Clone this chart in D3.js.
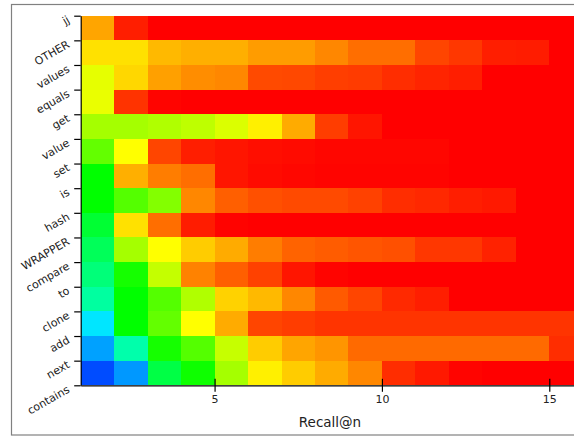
<!DOCTYPE html>
<html>
<head>
<script src="https://cdn.jsdelivr.net/npm/d3@7"></script>
<style>
  body { margin: 0; background: white; }
  text { font-family: "DejaVu Sans", sans-serif; fill: #222; }
</style>
</head>
<body>
<script>

// tick labels on the y axis (one more label than rows, as in the source figure)
var rowLabels = ["jj", "OTHER", "values", "equals", "get", "value", "set", "is",
                 "hash", "WRAPPER", "compare", "to", "clone", "add", "next", "contains"];

// n of Recall@n, one column per value
var nValues = d3.range(1, 16);

var xTicks = [5, 10, 15];

var rJj      = [0.85, 0.948, 0.975, 0.98, 0.98, 0.985, 0.985, 0.99, 0.99, 0.99, 0.995, 0.995, 1, 1, 1];
var rOther   = [0.807, 0.807, 0.836, 0.843, 0.843, 0.857, 0.857, 0.872, 0.89, 0.89, 0.92, 0.93, 0.948, 0.95, 0.975];
var rValues  = [0.767, 0.814, 0.854, 0.868, 0.872, 0.916, 0.918, 0.925, 0.927, 0.937, 0.944, 0.948, 0.975, 0.98, 0.985];
var rEquals  = [0.77, 0.933, 0.967, 0.975, 0.975, 0.98, 0.98, 0.985, 0.985, 0.99, 0.99, 0.99, 0.995, 0.995, 1];
var rGet     = [0.72, 0.72, 0.728, 0.738, 0.759, 0.796, 0.846, 0.926, 0.955, 0.975, 0.98, 0.98, 0.985, 0.99, 0.99];
var rValue   = [0.672, 0.785, 0.92, 0.948, 0.955, 0.96, 0.962, 0.966, 0.966, 0.966, 0.966, 0.975, 0.98, 0.98, 0.985];
var rSet     = [0.6, 0.843, 0.879, 0.89, 0.955, 0.962, 0.965, 0.967, 0.967, 0.967, 0.967, 0.975, 0.98, 0.98, 0.985];
var rIs      = [0.6, 0.661, 0.695, 0.872, 0.901, 0.912, 0.916, 0.916, 0.923, 0.937, 0.941, 0.948, 0.952, 0.975, 0.98];
var rHash    = [0.563, 0.807, 0.89, 0.95, 0.968, 0.975, 0.975, 0.98, 0.98, 0.985, 0.985, 0.99, 0.99, 0.99, 0.995];
var rWrapper = [0.535, 0.72, 0.785, 0.822, 0.846, 0.879, 0.898, 0.903, 0.908, 0.912, 0.93, 0.93, 0.945, 0.975, 0.98];
var rCompare = [0.512, 0.615, 0.742, 0.876, 0.901, 0.923, 0.955, 0.967, 0.975, 0.975, 0.98, 0.98, 0.985, 0.985, 0.99];
var rTo      = [0.483, 0.6, 0.661, 0.728, 0.818, 0.836, 0.872, 0.905, 0.92, 0.94, 0.948, 0.975, 0.975, 0.98, 0.98];
var rClone   = [0.396, 0.6, 0.672, 0.785, 0.846, 0.92, 0.926, 0.932, 0.932, 0.932, 0.932, 0.932, 0.932, 0.932, 0.932];
var rAdd     = [0.346, 0.475, 0.615, 0.661, 0.744, 0.822, 0.85, 0.862, 0.893, 0.893, 0.893, 0.893, 0.893, 0.893, 0.937];
var rNext    = [0.285, 0.34, 0.55, 0.61, 0.72, 0.796, 0.822, 0.846, 0.872, 0.937, 0.952, 0.967, 0.975, 0.98, 0.98];

var rows = [rJj, rOther, rValues, rEquals, rGet, rValue, rSet, rIs,
            rHash, rWrapper, rCompare, rTo, rClone, rAdd, rNext];

var width = 574,
    height = 436,
    plotLeft = 80.7,
    plotTop = 15.7,
    plotBottom = 385.3,
    colW = 33.47;

var svg = d3.select("body").append("svg")
            .attr("width", width)
            .attr("height", height);

// figure frame (cut on the right side)
svg.append("rect")
   .attr("x", 11.5).attr("y", 4.5)
   .attr("width", 700).attr("height", 430.5)
   .attr("fill", "white")
   .attr("stroke", "#808080")
   .attr("stroke-width", 1.2);

var xScale = d3.scaleLinear()
               .domain([1, 16])
               .range([plotLeft, plotLeft + 15 * colW]);
var yScale = d3.scaleLinear()
               .domain([0, rows.length])
               .range([plotTop, plotBottom]);

// gist_rainbow-like colours, low recall blue, high recall red
var color = d3.scaleLinear()
              .domain([0.23, 0.414, 0.6, 0.785, 0.97])
              .range(["#0000ff", "#00ffff", "#00ff00", "#ffff00", "#ff0000"])
              .clamp(true);

var cells = [];
rows.forEach(function (r, i) {
  r.forEach(function (v, j) {
    cells.push({"row": i, "n": nValues[j], "v": v});
  });
});

svg.append("g")
   .selectAll("rect")
   .data(cells)
   .enter()
   .append("rect")
   .attr("x", function (d) { return xScale(d.n); })
   .attr("y", function (d) { return yScale(d.row); })
   .attr("width", function (d) { return xScale(d.n + 1) - xScale(d.n); })
   .attr("height", function (d) { return yScale(d.row + 1) - yScale(d.row); })
   .attr("fill", function (d) { return color(d.v); })
   .attr("shape-rendering", "crispEdges");

// y axis
var yAxis = svg.append("g")
   .attr("transform", "translate(" + plotLeft + ",0)")
   .call(d3.axisLeft(yScale)
           .tickValues(d3.range(rowLabels.length))
           .tickFormat(function (i) { return rowLabels[i]; })
           .tickSize(6.5)
           .tickSizeOuter(0));
yAxis.selectAll("text")
     .attr("x", null)
     .attr("dy", null)
     .attr("transform", "translate(-12,2.7) rotate(-30)")
     .attr("dominant-baseline", "central")
     .style("font-size", "11px")
     .style("font-family", "DejaVu Sans");

// x axis
var xAxis = svg.append("g")
   .attr("transform", "translate(0," + plotBottom + ")")
   .call(d3.axisBottom(xScale)
           .tickValues(xTicks)
           .tickSize(6.5)
           .tickSizeOuter(0));
xAxis.selectAll(".tick line").attr("y1", -6.5);
xAxis.selectAll("text")
     .attr("y", 10)
     .style("font-size", "11px")
     .style("font-family", "DejaVu Sans");

svg.selectAll(".domain, .tick line").attr("stroke", "#000").attr("stroke-width", 1.2);

svg.append("text")
   .attr("x", 330)
   .attr("y", 427)
   .attr("text-anchor", "middle")
   .style("font-size", "13.5px")
   .text("Recall@n");

</script>
</body>
</html>
